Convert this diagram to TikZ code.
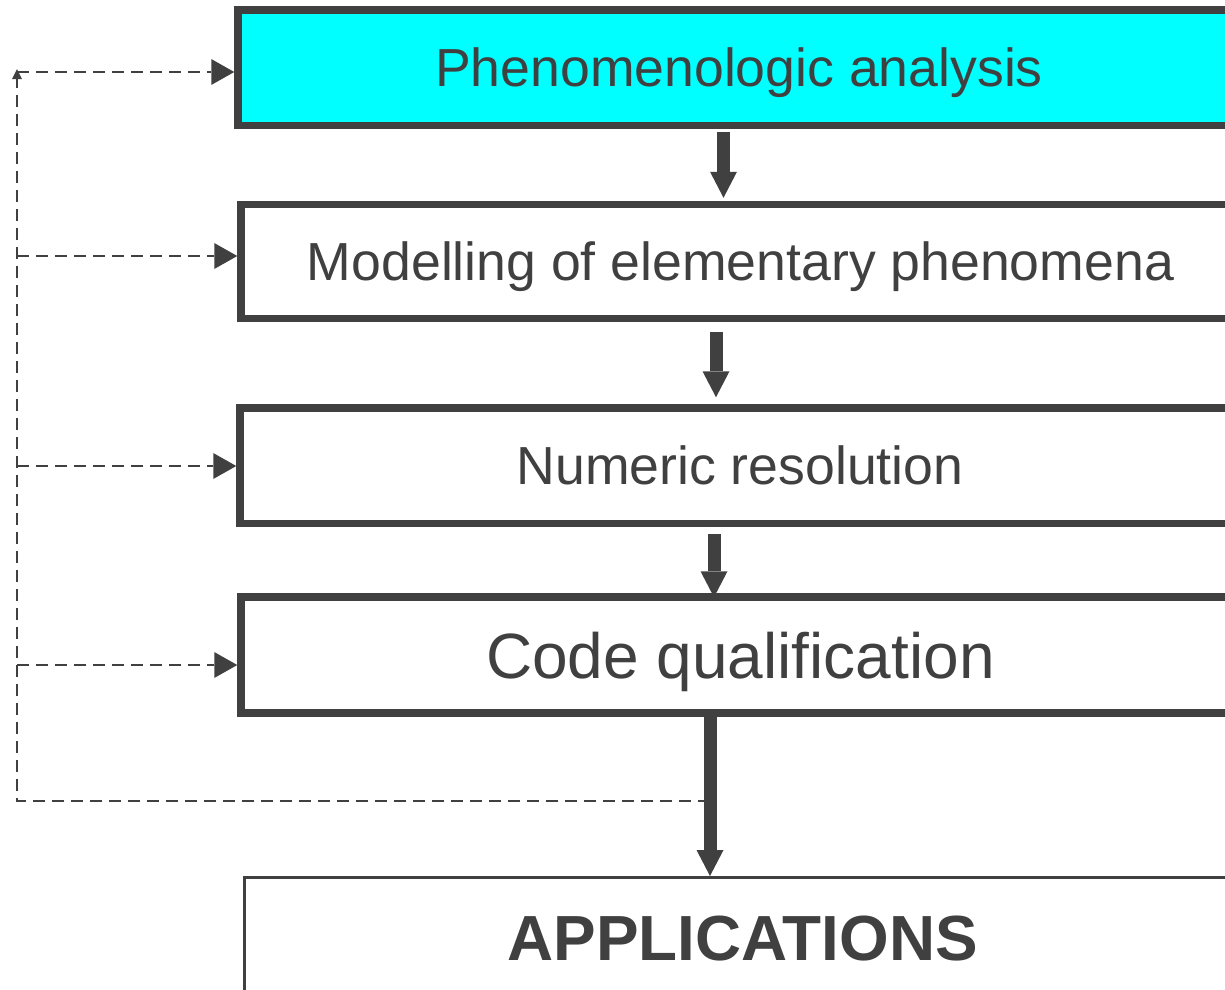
\documentclass[tikz,border=0pt]{standalone}
\usepackage{fontspec}
\setmainfont{Liberation Sans}
\usetikzlibrary{arrows.meta}
\definecolor{dk}{HTML}{404040}
\definecolor{cy}{HTML}{00FFFF}
\begin{document}
\begin{tikzpicture}[x=1pt,y=-1pt,
  box/.style={draw=dk, line width=7.5pt, rectangle, inner sep=0pt, fill=white, text=dk,
    font=\fontsize{53.6}{60}\selectfont, text height=38.4pt, text depth=0pt},
  bigarrow/.style={draw=dk, line width=13pt, -{Triangle[length=26pt,width=27pt,line width=0pt]}},
  dashline/.style={draw=dk, line width=2.4pt, dash pattern=on 12pt off 7pt},
  dasharrow/.style={dashline, -{Triangle[length=23pt,width=26pt,line width=0pt]}},
  smalltip/.style={-{Triangle[length=10pt,width=10pt,line width=0pt]}}]
\useasboundingbox (0,0) rectangle (1225,989);
\clip (0,0) rectangle (1225,989);
% boxes
\node[box, fill=cy, minimum width=1002pt, minimum height=115.5pt] (b1) at (739,67.75) {Phenomenologic analysis};
\node[box, minimum width=999pt, minimum height=114pt] (b2) at (740.5,261.5) {Modelling of elementary phenomena};
\node[box, minimum width=1000pt, minimum height=115.5pt] (b3) at (740,465.75) {Numeric resolution};
\node[box, minimum width=999pt, minimum height=116pt, font=\fontsize{64}{70}\selectfont, text height=46pt] (b4) at (740.5,655) {Code qualification};
\node[box, line width=3pt, minimum width=996.5pt, minimum height=121pt, font=\bfseries\fontsize{63.8}{70}\selectfont, text height=45.7pt] (b5) at (742.75,938) {APPLICATIONS};
% helper coordinates
\coordinate (x1) at (723.5,0);
\coordinate (x2) at (716,0);
\coordinate (x3) at (714,0);
\coordinate (x4) at (710,0);
\coordinate (c0) at (17,72);
\coordinate (ct) at (17,69);
\coordinate (l2) at (17,256);
\coordinate (l3) at (17,466);
\coordinate (l4) at (17,665);
\coordinate (c5) at (17,801);
\coordinate (j) at (x4 |- c5);
% feedback loop
\draw[dashline, smalltip] (j) -- (c5) -- (ct);
\draw[dasharrow] (c0) -- (c0 -| b1.west);
\draw[dasharrow] (l2) -- (l2 -| b2.west);
\draw[dasharrow] (l3) -- (l3 -| b3.west);
\draw[dasharrow] (l4) -- (l4 -| b4.west);
% main arrows
\draw[bigarrow, shorten <=3pt, shorten >=3pt] (x1 |- b1.south) -- (x1 |- b2.north);
\draw[bigarrow, shorten <=10pt, shorten >=7pt] (x2 |- b2.south) -- (x2 |- b3.north);
\draw[bigarrow, shorten <=7pt, shorten >=-4pt] (x3 |- b3.south) -- (x3 |- b4.north);
\draw[bigarrow, shorten <=-3pt] (x4 |- b4.south) -- (x4 |- b5.north);
\end{tikzpicture}
\end{document}
